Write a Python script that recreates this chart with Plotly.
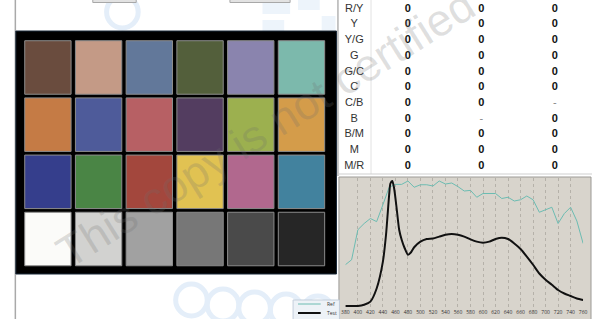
import plotly.graph_objects as go

W, H = 596, 319

# ---------------- data ----------------
checker_row1 = ["#6a4c3e", "#c49a86", "#62789a", "#535f3b", "#8a84ae", "#7cb9ac"]
checker_row2 = ["#c57b45", "#4e5b9a", "#b76064", "#533d60", "#9cb04f", "#d49c4a"]
checker_row3 = ["#353e8c", "#4a8545", "#a3473d", "#e1c252", "#b1688e", "#42829e"]
checker_row4 = ["#fbfbf9", "#d2d2d0", "#a1a1a1", "#777777", "#4a4a4a", "#262626"]

hue_labels = ["R/Y", "Y", "Y/G", "G", "G/C", "C", "C/B", "B", "B/M", "M", "M/R"]
col1_values = ["0", "0", "0", "0", "0", "0", "0", "0", "0", "0", "0"]
col2_values = ["0", "0", "0", "0", "0", "0", "0", "-", "0", "0", "0"]
col3_values = ["0", "0", "0", "0", "0", "0", "-", "0", "0", "0", "0"]

ref_wavelength = [380, 390, 400, 410, 420, 430, 440, 450, 460, 470, 480, 490, 500,
                  510, 520, 530, 540, 550, 560, 570, 580, 590, 600, 610, 620, 630,
                  640, 650, 660, 670, 680, 690, 700, 710, 720, 730, 740, 750, 760]
ref_value = [0.33, 0.37, 0.61, 0.66, 0.70, 0.675, 0.81, 0.95, 0.973, 0.973, 1.0, 0.95, 0.97,
             0.97, 0.96, 1.0, 0.976, 0.984, 0.955, 0.92, 0.925, 0.87, 0.90, 0.90, 0.90, 0.86,
             0.87, 0.84, 0.85, 0.88, 0.85, 0.75, 0.77, 0.79, 0.66, 0.74, 0.79, 0.68, 0.50]

test_wavelength = [380, 400, 410, 420, 430, 440, 445, 450, 452, 455, 458, 462, 466, 470,
                   475, 480, 485, 490, 500, 510, 520, 530, 540, 550, 560, 570, 580, 590,
                   600, 610, 620, 630, 640, 650, 660, 670, 680, 690, 700, 710, 720, 730,
                   740, 750, 760]
test_value = [0.0, 0.0, 0.01, 0.035, 0.14, 0.355, 0.57, 0.89, 0.98, 1.0, 0.94, 0.78, 0.61, 0.53,
              0.46, 0.41, 0.43, 0.47, 0.515, 0.536, 0.54, 0.555, 0.57, 0.576, 0.57, 0.555, 0.533,
              0.515, 0.507, 0.515, 0.536, 0.547, 0.536, 0.50, 0.456, 0.395, 0.33, 0.26, 0.21,
              0.17, 0.128, 0.10, 0.08, 0.06, 0.048]

x_ticks = list(range(380, 761, 20))

# ---------------- helpers (layout only) ----------------
def px(x):
    return x / W


def py(y):
    return 1 - y / H


fig = go.Figure()
shapes = []
annotations = []

# faint background watermark shapes (light blue)
for cx, cy, r in [(120, 12, 16), (190, 300, 16), (222, 305, 16), (254, 308, 16), (286, 310, 16), (318, 312, 16)]:
    shapes.append(dict(type="circle", xref="paper", yref="paper", layer="below",
                       x0=px(cx - r), x1=px(cx + r), y0=py(cy + r), y1=py(cy - r),
                       line=dict(color="#e4eef9", width=5)))
for x0, y0, x1, y1 in [(262, 0, 290, 14), (298, 0, 320, 10), (322, 16, 336, 30), (262, 20, 284, 31)]:
    shapes.append(dict(type="rect", xref="paper", yref="paper", layer="below",
                       x0=px(x0), x1=px(x1), y0=py(y1), y1=py(y0),
                       fillcolor="#edf4fb", line=dict(width=0)))

# top buttons (cut off)
for x0, x1 in [(90, 134), (229, 290)]:
    shapes.append(dict(type="rect", xref="paper", yref="paper", layer="below",
                       x0=px(x0), x1=px(x1), y0=py(2.5), y1=py(-2),
                       fillcolor="#e2e2e2", line=dict(color="#a8a8a8", width=1)))

# left frame line
shapes.append(dict(type="line", xref="paper", yref="paper", layer="below",
                   x0=px(11.5), x1=px(11.5), y0=0, y1=1, line=dict(color="#a9a9a9", width=1.5)))

# ---------------- color checker (axis x2/y2) ----------------
shapes.append(dict(type="rect", xref="x2 domain", yref="y2 domain", layer="below",
                   x0=0, x1=1, y0=0, y1=1, fillcolor="#000000",
                   line=dict(color="#1b2a3a", width=1)))
rows = [checker_row1, checker_row2, checker_row3, checker_row4]
hw, hh = 0.457, 0.468
for r, row in enumerate(rows):
    for c, col in enumerate(row):
        shapes.append(dict(type="rect", xref="x2", yref="y2", layer="below",
                           x0=c - hw, x1=c + hw, y0=r - hh, y1=r + hh,
                           fillcolor=col, line=dict(color="#8c8c8c", width=1)))

# invisible anchor trace for checker axes
fig.add_trace(go.Scatter(x=[0, 5], y=[0, 3], mode="markers", marker=dict(opacity=0),
                         xaxis="x2", yaxis="y2", hoverinfo="skip", showlegend=False))

# ---------------- table (axis x3/y3) ----------------
col_widths = [34, 74.5, 74.5, 74.5]
centers = []
acc = 0
for w in col_widths:
    centers.append(acc + w / 2)
    acc += w
rows_idx = list(range(len(hue_labels)))

fig.add_trace(go.Scatter(x=[centers[0]] * len(hue_labels), y=rows_idx, text=hue_labels,
                         mode="text", textfont=dict(size=11, color="#333333", family="Liberation Sans, Arial"),
                         xaxis="x3", yaxis="y3", hoverinfo="skip", showlegend=False))
for k, vals in enumerate([col1_values, col2_values, col3_values]):
    fig.add_trace(go.Scatter(
        x=[centers[k + 1]] * len(vals), y=rows_idx,
        text=["<b>%s</b>" % v if v != "-" else v for v in vals],
        mode="text",
        textfont=dict(size=11, color=["#111111" if v != "-" else "#888888" for v in vals],
                      family="Liberation Sans, Arial"),
        xaxis="x3", yaxis="y3", hoverinfo="skip", showlegend=False))

# table borders
shapes.append(dict(type="line", xref="paper", yref="paper", x0=px(338.5), x1=px(338.5),
                   y0=py(176), y1=1, line=dict(color="#8e8e8e", width=1)))
shapes.append(dict(type="line", xref="paper", yref="paper", x0=px(372), x1=px(372),
                   y0=py(174), y1=1, line=dict(color="#e2e2e2", width=1)))
shapes.append(dict(type="line", xref="paper", yref="paper", x0=px(338), x1=1,
                   y0=py(174), y1=py(174), line=dict(color="#cfcfcf", width=1)))

# ---------------- spectrum chart (x/y) ----------------
shapes.append(dict(type="rect", xref="paper", yref="paper", layer="below",
                   x0=px(339.5), x1=px(595), y0=py(320), y1=py(177),
                   fillcolor="#d8d4cc", line=dict(color="#9c9a96", width=1)))

fig.add_trace(go.Scatter(x=ref_wavelength, y=ref_value, name="Ref", mode="lines",
                         line=dict(color="#6cbcb2", width=1), hoverinfo="skip"))
fig.add_trace(go.Scatter(x=test_wavelength, y=test_value, name="Test", mode="lines",
                         line=dict(color="#111111", width=2, shape="spline", smoothing=0.6),
                         hoverinfo="skip"))

# custom legend
shapes.append(dict(type="rect", xref="paper", yref="paper",
                   x0=px(293), x1=px(340), y0=py(320), y1=py(300),
                   fillcolor="#edf2f7", line=dict(color="#c3cedb", width=1)))
shapes.append(dict(type="line", xref="paper", yref="paper",
                   x0=px(298), x1=px(321), y0=py(304), y1=py(304),
                   line=dict(color="#6cbcb2", width=1)))
shapes.append(dict(type="line", xref="paper", yref="paper",
                   x0=px(298), x1=px(321), y0=py(313), y1=py(313),
                   line=dict(color="#111111", width=2)))
annotations.append(dict(text="Ref", xref="paper", yref="paper", x=px(325), y=py(304),
                        xanchor="left", yanchor="middle", showarrow=False,
                        font=dict(size=5, color="#333333")))
annotations.append(dict(text="Test", xref="paper", yref="paper", x=px(325), y=py(313),
                        xanchor="left", yanchor="middle", showarrow=False,
                        font=dict(size=5, color="#333333")))

# watermark
annotations.append(dict(text="This copy is not certified", xref="paper", yref="paper",
                        x=px(265), y=py(128), showarrow=False, textangle=-32,
                        font=dict(size=45, color="rgba(110,110,110,0.22)",
                                  family="Liberation Sans, Arial")))

fig.update_layout(
    width=W, height=H,
    margin=dict(l=0, r=0, t=0, b=0),
    paper_bgcolor="#ffffff",
    plot_bgcolor="rgba(0,0,0,0)",
    showlegend=False,
    hovermode=False,
    shapes=shapes,
    annotations=annotations,
    xaxis=dict(domain=[px(346), px(587)], range=[380, 760], tickvals=x_ticks,
               tickfont=dict(size=5, color="#333333"), showgrid=True,
               gridcolor="#b5b1a9", griddash="dot", gridwidth=1, zeroline=False,
               showline=False, ticks="", anchor="y", fixedrange=True),
    yaxis=dict(domain=[py(308), py(178)], range=[-0.016, 1.024], visible=False,
               anchor="x", fixedrange=True),
    xaxis2=dict(domain=[px(12), px(337)], range=[-0.632, 5.69], visible=False, anchor="y2"),
    yaxis2=dict(domain=[py(274), py(31)], range=[3.612, -0.638], visible=False, anchor="x2"),
    xaxis3=dict(domain=[px(338), 1], range=[0, 258], visible=False, anchor="y3"),
    yaxis3=dict(domain=[py(174), 1], range=[10.51, -0.573], visible=False, anchor="x3"),
)

fig.write_html("out.html",
               config={"displayModeBar": False},
               post_script="document.body.style.margin='0';document.body.style.overflow='hidden';")
